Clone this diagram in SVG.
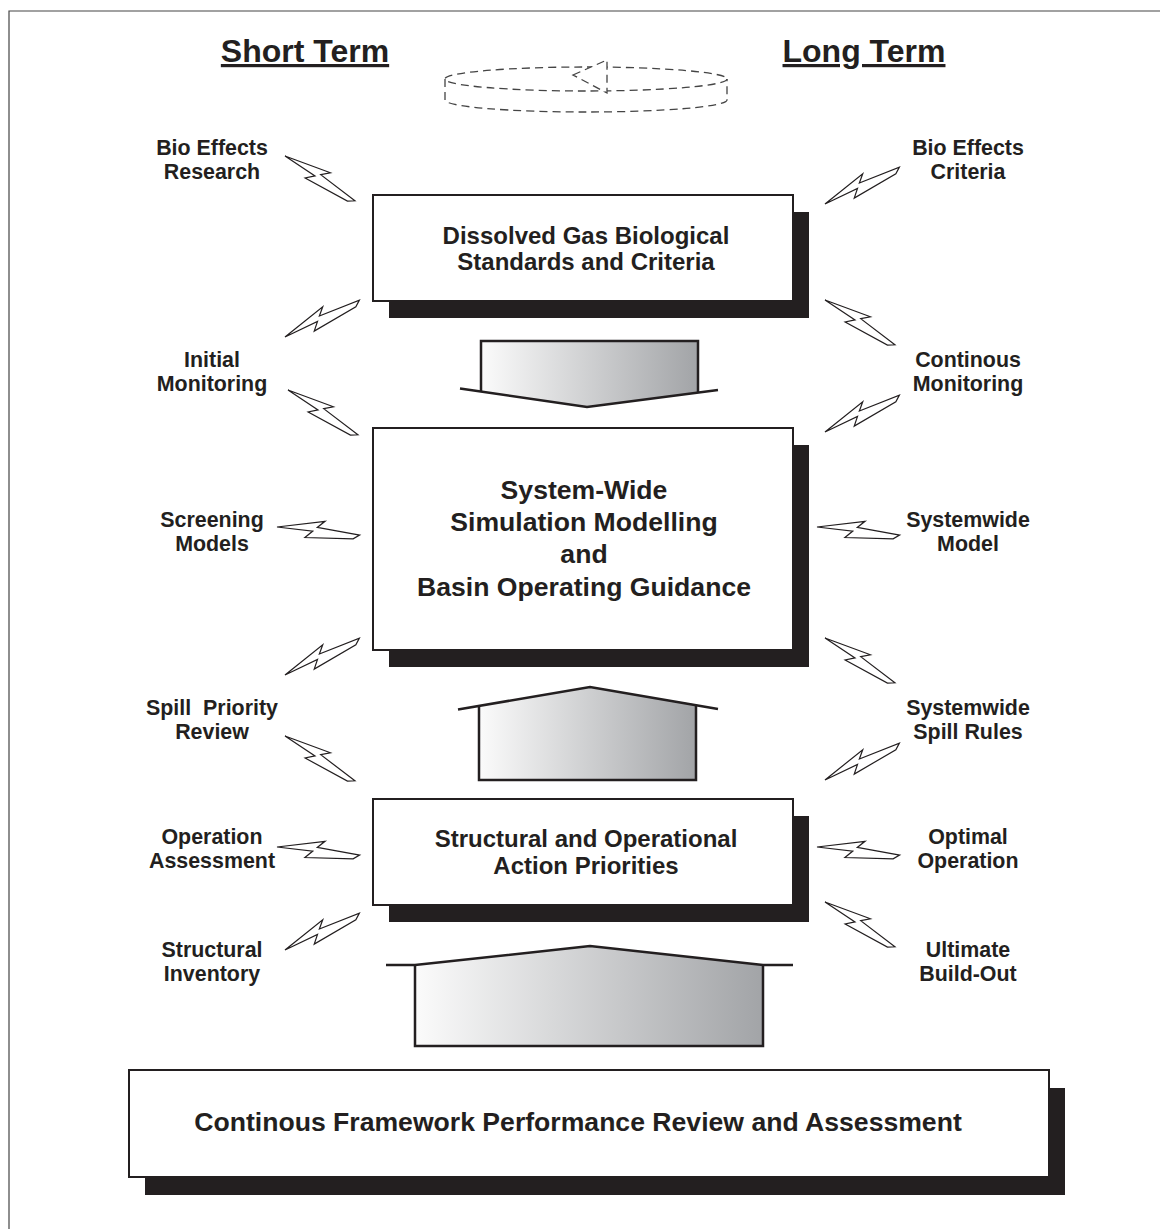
<svg xmlns="http://www.w3.org/2000/svg" width="1160" height="1229" viewBox="0 0 1160 1229">
<style>
.t{font-family:"Liberation Sans",Arial,sans-serif;font-weight:bold;fill:#231f20;text-anchor:middle}
.lbl{font-size:21.4px}
.bx{font-size:24px}
.bt{font-size:26.6px}
.mid{font-size:26.6px}
.hd{font-size:32px;text-decoration:underline}
.box{fill:#fff;stroke:#231f20;stroke-width:2}
.sh{fill:#231f20}
.bolt{fill:#fff;stroke:#231f20;stroke-width:1.2;stroke-linejoin:miter}
.ar{fill:none;stroke:#231f20;stroke-width:2.5;stroke-linejoin:miter}
.dash{fill:none;stroke:#444;stroke-width:1.3;stroke-dasharray:8 5}
</style>
<defs>
<linearGradient id="g" x1="0" y1="0" x2="1" y2="0">
<stop offset="0" stop-color="#fbfbfb"/>
<stop offset="1" stop-color="#a2a4a7"/>
</linearGradient>
<polygon id="bolt" class="bolt" points="0,0 47,-11.5 40,-4.5 83,-2 77,2.5 29,7 36,-0.3"/>
</defs>
<rect width="1160" height="1229" fill="#fff"/>
<path d="M9,1229 V11 H1160" fill="none" stroke="#444" stroke-width="1.2"/>

<g id="headings">
<text class="t hd" x="305" y="62">Short Term</text>
<text class="t hd" x="864" y="62">Long Term</text>
</g>

<g id="cycle">
<ellipse class="dash" cx="586" cy="79" rx="141" ry="12"/>
<path class="dash" d="M445,79 V100 A141,12 0 0 0 727,100 V79"/>
<polygon points="573,75 607,60 607,93" fill="#fff" stroke="#444" stroke-width="1.3" stroke-dasharray="8 5"/>
</g>

<g id="box-standards">
<rect class="sh" x="389" y="212" width="420" height="106"/>
<rect class="box" x="373" y="195" width="420" height="106"/>
<text class="t bx" x="586" y="244">Dissolved Gas Biological</text>
<text class="t bx" x="586" y="270">Standards and Criteria</text>
</g>

<g id="box-simulation">
<rect class="sh" x="389" y="445" width="420" height="222"/>
<rect class="box" x="373" y="428" width="420" height="222"/>
<text class="t mid" x="584" y="499">System-Wide</text>
<text class="t mid" x="584" y="531">Simulation Modelling</text>
<text class="t mid" x="584" y="563">and</text>
<text class="t mid" x="584" y="596">Basin Operating Guidance</text>
</g>

<g id="box-priorities">
<rect class="sh" x="389" y="816" width="420" height="106"/>
<rect class="box" x="373" y="799" width="420" height="106"/>
<text class="t bx" x="586" y="847">Structural and Operational</text>
<text class="t bx" x="586" y="874">Action Priorities</text>
</g>

<g id="box-review">
<rect class="sh" x="145" y="1088" width="920" height="107"/>
<rect class="box" x="129" y="1070" width="920" height="107"/>
<text class="t bt" x="578" y="1131">Continous Framework Performance Review and Assessment</text>
</g>

<g id="arrow-down">
<polygon points="481,341 698,341 698,392.5 587,407 481,391.5" fill="url(#g)"/>
<path class="ar" d="M481,391.5 V341 H698 V392.5"/>
<polyline class="ar" points="460,388.5 587,407 718,390"/>
</g>

<g id="arrow-up-1">
<polygon points="479,705 590,687 696,704.5 696,780 479,780" fill="url(#g)"/>
<path class="ar" d="M479,705 V780 H696 V704.5"/>
<polyline class="ar" points="458,709.5 590,687 718,709"/>
</g>

<g id="arrow-up-2">
<polygon points="415,965 590,946 763,965 763,1046 415,1046" fill="url(#g)"/>
<path class="ar" d="M415,965 V1046 H763 V965"/>
<polyline class="ar" points="386,965 415,965 590,946 763,965 793,965"/>
</g>

<g id="connectors">
<use href="#bolt" transform="translate(285,156) rotate(34)"/>
<use href="#bolt" transform="translate(285,337) rotate(-25)"/>
<use href="#bolt" transform="translate(288,390) rotate(34)"/>
<use href="#bolt" transform="translate(277,527) rotate(7)"/>
<use href="#bolt" transform="translate(285,675) rotate(-25)"/>
<use href="#bolt" transform="translate(285,736) rotate(34)"/>
<use href="#bolt" transform="translate(277,847) rotate(7)"/>
<use href="#bolt" transform="translate(285,950) rotate(-25)"/>
<use href="#bolt" transform="translate(825,204) rotate(-25)"/>
<use href="#bolt" transform="translate(825,300) rotate(34)"/>
<use href="#bolt" transform="translate(825,432) rotate(-25)"/>
<use href="#bolt" transform="translate(817,527) rotate(7)"/>
<use href="#bolt" transform="translate(825,638) rotate(34)"/>
<use href="#bolt" transform="translate(825,780) rotate(-25)"/>
<use href="#bolt" transform="translate(817,847) rotate(7)"/>
<use href="#bolt" transform="translate(825,902) rotate(34)"/>
</g>

<g id="label-bio-research"><text class="t lbl" x="212" y="155">Bio Effects</text><text class="t lbl" x="212" y="179">Research</text></g>
<g id="label-initial-monitoring"><text class="t lbl" x="212" y="367">Initial</text><text class="t lbl" x="212" y="391">Monitoring</text></g>
<g id="label-screening"><text class="t lbl" x="212" y="527">Screening</text><text class="t lbl" x="212" y="551">Models</text></g>
<g id="label-spill-priority"><text class="t lbl" x="212" y="715" xml:space="preserve">Spill  Priority</text><text class="t lbl" x="212" y="739">Review</text></g>
<g id="label-operation-assessment"><text class="t lbl" x="212" y="844">Operation</text><text class="t lbl" x="212" y="868">Assessment</text></g>
<g id="label-structural-inventory"><text class="t lbl" x="212" y="957">Structural</text><text class="t lbl" x="212" y="981">Inventory</text></g>

<g id="label-bio-criteria"><text class="t lbl" x="968" y="155">Bio Effects</text><text class="t lbl" x="968" y="179">Criteria</text></g>
<g id="label-continous-monitoring"><text class="t lbl" x="968" y="367">Continous</text><text class="t lbl" x="968" y="391">Monitoring</text></g>
<g id="label-systemwide-model"><text class="t lbl" x="968" y="527">Systemwide</text><text class="t lbl" x="968" y="551">Model</text></g>
<g id="label-spill-rules"><text class="t lbl" x="968" y="715">Systemwide</text><text class="t lbl" x="968" y="739">Spill Rules</text></g>
<g id="label-optimal-operation"><text class="t lbl" x="968" y="844">Optimal</text><text class="t lbl" x="968" y="868">Operation</text></g>
<g id="label-build-out"><text class="t lbl" x="968" y="957">Ultimate</text><text class="t lbl" x="968" y="981">Build-Out</text></g>
</svg>
